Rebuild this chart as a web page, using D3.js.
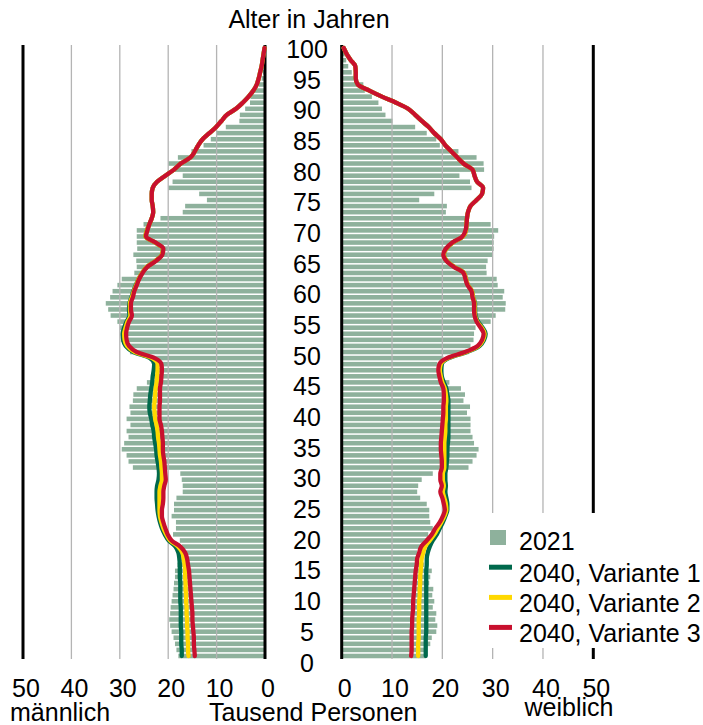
<!DOCTYPE html>
<html>
<head>
<meta charset="utf-8">
<script src="https://cdn.jsdelivr.net/npm/d3@7"></script>
<style>
  body { margin: 0; background: #fff; }
  text { font-family: "Liberation Sans", Arial, sans-serif; font-size: 25px; fill: #000; }
</style>
</head>
<body>
<div id="container"></div>
<script>
// Altersaufbau 2021 und 2040 (Tausend Personen), Alter 0..100
const ages = d3.range(0, 101);
const ageTicks = [0, 5, 10, 15, 20, 25, 30, 35, 40, 45, 50, 55, 60, 65, 70, 75, 80, 85, 90, 95, 100];
const xTicks = [0, 10, 20, 30, 40, 50];
const seriesNames = ["2021", "2040, Variante 1", "2040, Variante 2", "2040, Variante 3"];

const male2021 = [
  17.9, 18.3, 18.6, 18.9, 19.3, 19.6, 19.8, 19.6, 19.5, 19.3,
  19.1, 18.9, 18.8, 18.6, 18.6, 18.1, 17.7, 17.6, 17.2, 17.6,
  19.0, 18.4, 18.4, 19.3, 18.8, 18.8, 18.3, 17.0, 17.0, 17.2,
  17.5, 27.3, 28.2, 28.6, 29.6, 29.1, 28.2, 28.6, 27.8, 28.6,
  27.8, 28.0, 27.3, 27.2, 26.5, 24.4, 22.9, 22.9, 22.9, 23.4,
  27.9, 28.9, 29.8, 29.8, 30.0, 30.5, 31.9, 32.4, 32.9, 32.0,
  31.5, 30.5, 29.6, 27.0, 26.5, 26.6, 27.2, 26.4, 26.5, 26.5,
  26.5, 25.1, 21.6, 17.0, 16.5, 12.0, 13.6, 20.0, 19.1, 17.0,
  19.0, 20.0, 18.0, 15.2, 12.7, 11.2, 10.0, 8.1, 5.3, 5.2,
  4.1, 3.1, 3.0, 2.2, 1.3, 0.7, 0.4, 0.3, 0.2, 0.1,
  0.1
];
const female2021 = [
  16.6, 16.9, 17.6, 17.9, 18.8, 19.0, 18.6, 18.8, 18.1, 18.4,
  18.0, 18.2, 17.4, 17.6, 17.9, 16.4, 15.0, 15.0, 15.9, 16.9,
  17.2, 18.1, 17.6, 17.4, 17.4, 16.9, 15.6, 15.0, 15.2, 15.9,
  18.1, 25.2, 26.0, 26.8, 27.2, 26.3, 26.0, 25.6, 25.6, 25.6,
  24.9, 25.5, 24.2, 24.5, 23.7, 21.4, 19.2, 18.9, 19.0, 20.2,
  25.2, 25.6, 26.2, 26.3, 26.6, 29.6, 30.6, 32.5, 32.6, 32.0,
  32.3, 31.0, 30.8, 28.8, 28.7, 29.0, 30.0, 30.2, 30.2, 30.3,
  31.1, 29.6, 24.5, 20.7, 20.9, 15.4, 18.4, 25.8, 25.5, 23.4,
  28.3, 28.2, 26.8, 23.2, 19.5, 18.8, 16.9, 14.6, 10.1, 8.7,
  8.0, 7.3, 6.0, 4.6, 4.3, 2.5, 2.0, 1.3, 0.9, 0.6,
  0.3
];

// 2040, Alter 71..100: alle drei Varianten praktisch gleich
const maleOld2040 = [
  23.9, 23.4, 23.1, 23.2, 23.4, 23.4, 23.2, 22.3, 20.6,
  18.8, 17.4, 15.4, 14.5, 13.8, 12.9, 11.5, 10.1, 9.0, 7.9,
  6.0, 4.6, 3.4, 2.4, 1.7, 1.3, 1.0, 0.7, 0.5, 0.3,
  0.1
];
const femaleOld2040 = [
  24.8, 24.9, 25.1, 25.6, 26.8, 27.9, 28.1, 26.9, 26.4,
  26.0, 24.2, 23.0, 21.8, 20.6, 19.7, 18.4, 17.3, 15.9, 14.6,
  13.2, 10.8, 8.0, 5.5, 3.2, 2.8, 2.8, 2.7, 1.8, 1.0,
  0.4
];

const maleV1 = [
  17.2, 17.2, 17.3, 17.3, 17.3, 17.4, 17.4, 17.4, 17.4, 17.5,
  17.5, 17.5, 17.5, 17.6, 17.6, 17.6, 17.7, 17.9, 18.5, 19.9,
  20.7, 21.3, 21.7, 22.0, 22.2, 22.3, 22.4, 22.4, 22.3, 22.0,
  21.9, 22.0, 22.2, 22.4, 22.5, 22.7, 22.9, 23.0, 23.3, 23.5,
  23.8, 23.9, 23.8, 23.7, 23.5, 23.3, 23.2, 23.0, 22.9, 23.8,
  27.2, 28.8, 29.3, 29.4, 29.1, 28.6, 28.0, 28.1, 28.0, 27.6,
  27.2, 26.7, 26.1, 25.4, 24.4, 22.6, 21.3, 21.1, 22.7, 24.7,
  24.4
].concat(maleOld2040);
const maleV2 = [
  15.8, 15.9, 15.9, 16.0, 16.0, 16.1, 16.1, 16.2, 16.2, 16.3,
  16.3, 16.4, 16.4, 16.5, 16.5, 16.6, 16.8, 17.1, 18.0, 19.6,
  20.4, 21.0, 21.4, 21.7, 21.8, 21.8, 21.8, 21.8, 21.6, 21.3,
  21.3, 21.4, 21.5, 21.7, 21.8, 21.9, 22.1, 22.2, 22.4, 22.7,
  22.8, 22.9, 22.8, 22.7, 22.6, 22.4, 22.3, 22.2, 22.2, 23.3,
  26.9, 28.5, 29.0, 29.1, 28.8, 28.4, 27.8, 27.9, 27.9, 27.5,
  27.1, 26.6, 26.1, 25.4, 24.4, 22.6, 21.3, 21.1, 22.7, 24.7,
  24.4
].concat(maleOld2040);
const maleV3 = [
  14.5, 14.6, 14.7, 14.7, 14.8, 14.9, 15.0, 15.0, 15.1, 15.2,
  15.3, 15.4, 15.5, 15.6, 15.7, 15.9, 16.1, 16.5, 17.5, 19.3,
  20.1, 20.6, 21.0, 21.3, 21.3, 21.1, 21.0, 21.0, 20.8, 20.5,
  20.6, 20.7, 20.8, 21.0, 21.1, 21.1, 21.2, 21.3, 21.5, 21.8,
  21.8, 21.8, 21.7, 21.7, 21.7, 21.5, 21.4, 21.3, 21.4, 22.8,
  26.5, 28.1, 28.6, 28.7, 28.5, 28.1, 27.5, 27.7, 27.7, 27.3,
  27.0, 26.5, 26.0, 25.3, 24.3, 22.5, 21.2, 21.0, 22.6, 24.6,
  24.3
].concat(maleOld2040);

const femaleV1 = [
  16.7, 16.7, 16.7, 16.7, 16.8, 16.8, 16.8, 16.8, 16.8, 16.8,
  16.8, 16.8, 16.8, 16.8, 16.8, 16.9, 16.9, 17.1, 17.5, 18.1,
  18.9, 19.5, 20.1, 20.6, 21.0, 21.0, 20.8, 20.6, 20.7, 20.6,
  20.6, 20.8, 20.9, 21.0, 21.0, 21.1, 21.2, 21.2, 21.2, 21.2,
  21.2, 21.2, 21.2, 21.0, 20.8, 20.3, 19.9, 19.8, 19.9, 21.3,
  24.9, 27.4, 28.3, 28.6, 28.0, 27.1, 26.6, 26.5, 26.5, 26.1,
  25.9, 25.1, 24.7, 24.3, 22.4, 20.9, 20.3, 20.8, 22.1, 24.1,
  24.7
].concat(femaleOld2040);
const femaleV2 = [
  15.2, 15.2, 15.2, 15.3, 15.3, 15.3, 15.3, 15.4, 15.4, 15.4,
  15.5, 15.5, 15.6, 15.6, 15.7, 15.8, 15.9, 16.2, 16.6, 17.5,
  18.4, 19.1, 19.8, 20.4, 20.8, 20.7, 20.4, 20.1, 20.3, 20.1,
  20.1, 20.4, 20.4, 20.4, 20.4, 20.4, 20.5, 20.6, 20.6, 20.7,
  20.7, 20.7, 20.8, 20.7, 20.5, 20.0, 19.7, 19.5, 19.7, 21.1,
  24.7, 27.2, 28.1, 28.4, 27.8, 26.9, 26.5, 26.4, 26.4, 26.1,
  25.9, 25.1, 24.7, 24.3, 22.4, 20.9, 20.3, 20.8, 22.1, 24.1,
  24.7
].concat(femaleOld2040);
const femaleV3 = [
  13.8, 13.9, 13.9, 13.9, 13.9, 14.0, 14.0, 14.1, 14.2, 14.2,
  14.3, 14.4, 14.5, 14.6, 14.7, 14.9, 15.0, 15.4, 15.8, 16.9,
  17.9, 18.6, 19.5, 20.1, 20.5, 20.3, 20.0, 19.6, 19.9, 19.6,
  19.6, 19.9, 19.9, 19.8, 19.7, 19.7, 19.8, 19.9, 20.0, 20.1,
  20.2, 20.2, 20.3, 20.3, 20.2, 19.7, 19.4, 19.2, 19.4, 20.9,
  24.5, 27.0, 27.9, 28.2, 27.6, 26.8, 26.4, 26.3, 26.3, 26.0,
  25.8, 25.0, 24.6, 24.2, 22.3, 20.8, 20.2, 20.7, 22.0, 24.0,
  24.6
].concat(femaleOld2040);

const barColor = "#8eb19c";
const lineColors = ["#00694c", "#ffd800", "#c8102e"];

const W = 703, H = 725;
const svg = d3.select("#container").append("svg")
  .attr("width", W)
  .attr("height", H);

const xLeft = d3.scaleLinear().domain([0, 50]).range([265, 23]);
const xRight = d3.scaleLinear().domain([0, 50]).range([341.7, 593.3]);
const y = d3.scaleBand()
  .domain(ages)
  .range([659, 45])
  .paddingInner(0.25)
  .paddingOuter(0.12);
const yLabel = d3.scaleLinear().domain([0, 100]).range([662.5, 49]);
const yMid = a => y(a) + y.bandwidth() / 2;

// bars 2021
svg.append("g").selectAll("rect")
  .data(ages)
  .join("rect")
  .attr("x", a => xLeft(male2021[a]))
  .attr("y", a => y(a))
  .attr("width", a => xLeft(0) - xLeft(male2021[a]))
  .attr("height", y.bandwidth())
  .attr("fill", barColor);

svg.append("g").selectAll("rect")
  .data(ages)
  .join("rect")
  .attr("x", xRight(0))
  .attr("y", a => y(a))
  .attr("width", a => xRight(female2021[a]) - xRight(0))
  .attr("height", y.bandwidth())
  .attr("fill", barColor);

// grid lines on top of bars
const grid = svg.append("g");
[xLeft, xRight].forEach(sc => {
  grid.selectAll(null)
    .data(xTicks)
    .join("line")
    .attr("x1", d => sc(d))
    .attr("x2", d => sc(d))
    .attr("y1", 45)
    .attr("y2", 659)
    .attr("stroke", d => (d === 0 || d === 50) ? "#000" : "#b4b4b4")
    .attr("stroke-width", d => (d === 0 || d === 50) ? 3 : 1.3);
});

// 2040 lines
const maleLines = [maleV1, maleV2, maleV3];
const femaleLines = [femaleV1, femaleV2, femaleV3];
const lineFor = sc => d3.line()
  .x(d => sc(d[1]))
  .y(d => yMid(d[0]))
  .curve(d3.curveMonotoneY);

maleLines.forEach((vals, i) => {
  svg.append("path")
    .datum(ages.map(a => [a, vals[a]]))
    .attr("d", lineFor(xLeft))
    .attr("fill", "none")
    .attr("stroke", lineColors[i])
    .attr("stroke-width", 4.3)
    .attr("stroke-linecap", "round")
    .attr("stroke-linejoin", "round");
});
femaleLines.forEach((vals, i) => {
  svg.append("path")
    .datum(ages.map(a => [a, vals[a]]))
    .attr("d", lineFor(xRight))
    .attr("fill", "none")
    .attr("stroke", lineColors[i])
    .attr("stroke-width", 4.3)
    .attr("stroke-linecap", "round")
    .attr("stroke-linejoin", "round");
});

// age labels
svg.append("text")
  .attr("x", 309)
  .attr("y", 27.5)
  .attr("text-anchor", "middle")
  .text("Alter in Jahren");

svg.append("g").selectAll("text")
  .data(ageTicks)
  .join("text")
  .attr("x", 307)
  .attr("y", d => yLabel(d))
  .attr("text-anchor", "middle")
  .attr("dominant-baseline", "central")
  .text(d => d);

// x tick labels
[xLeft, xRight].forEach(sc => {
  svg.append("g").selectAll("text")
    .data(xTicks)
    .join("text")
    .attr("x", d => sc(d) + 3)
    .attr("y", 697)
    .attr("text-anchor", "middle")
    .text(d => d);
});

svg.append("text").attr("x", 10).attr("y", 721).text("männlich");
svg.append("text").attr("x", 209).attr("y", 721).text("Tausend Personen");
svg.append("text").attr("x", 569).attr("y", 716).attr("text-anchor", "middle").text("weiblich");

// legend
const legend = svg.append("g");
legend.append("rect")
  .attr("x", 470).attr("y", 513)
  .attr("width", 233).attr("height", 135)
  .attr("fill", "#fff");
legend.append("rect")
  .attr("x", 490).attr("y", 530)
  .attr("width", 16).attr("height", 15)
  .attr("fill", barColor);
const legendBase = [550, 581.5, 611.7, 641.7];
legend.selectAll("text")
  .data(seriesNames)
  .join("text")
  .attr("x", 519)
  .attr("y", (d, i) => legendBase[i])
  .text(d => d);
legend.selectAll("line")
  .data(lineColors)
  .join("line")
  .attr("x1", 489).attr("x2", 512)
  .attr("y1", (d, i) => legendBase[i + 1] - 14.3)
  .attr("y2", (d, i) => legendBase[i + 1] - 14.3)
  .attr("stroke", d => d)
  .attr("stroke-width", 5);
</script>
</body>
</html>
